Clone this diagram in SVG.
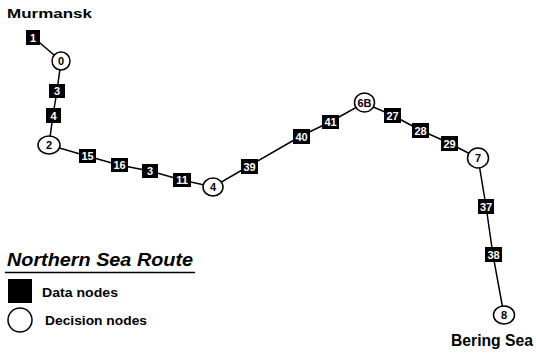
<svg xmlns="http://www.w3.org/2000/svg" width="536" height="353" viewBox="0 0 536 353">
<style>
.t{font-family:"Liberation Sans",Arial,sans-serif;font-weight:bold}
.d rect{fill:#000}
.d text{fill:#fff;font-size:11px;text-anchor:middle;font-family:"Liberation Sans",Arial,sans-serif;font-weight:bold}
.c ellipse{fill:#fff;stroke:#000;stroke-width:1.5}
.c text{fill:#000;font-size:11px;text-anchor:middle;font-family:"Liberation Sans",Arial,sans-serif;font-weight:bold}
.e{fill:none;stroke:#000;stroke-width:1.5}
</style>
<rect width="536" height="353" fill="#fff"/>
<g id="connectors">
<polyline class="e" points="33,37 61,61 57,91 53,115 49,145 87,156 119,165 150,171 182,180 213,187 249,166 301,136 330,122 364,103 392,115 420,130 449,143 478,158 486,206 493,255 504,315"/>
</g>
<text class="t" x="7" y="18" font-size="13.5" textLength="85" lengthAdjust="spacingAndGlyphs">Murmansk</text>
<text class="t" x="451" y="346" font-size="16" textLength="82" lengthAdjust="spacingAndGlyphs">Bering Sea</text>
<g id="n1" class="d"><rect x="26" y="30" width="14" height="15"/><text x="33" y="41.5">1</text></g>
<g id="n0" class="c"><ellipse cx="61" cy="61" rx="9" ry="9"/><text x="61" y="65">0</text></g>
<g id="n3a" class="d"><rect x="49" y="84" width="16" height="14"/><text x="57" y="95">3</text></g>
<g id="n4a" class="d"><rect x="46" y="108" width="15" height="15"/><text x="53.5" y="119.5">4</text></g>
<g id="n2" class="c"><ellipse cx="49" cy="145" rx="11" ry="9"/><text x="49" y="149">2</text></g>
<g id="n15" class="d"><rect x="79" y="149" width="17" height="14"/><text x="87.5" y="160">15</text></g>
<g id="n16" class="d"><rect x="111" y="158" width="17" height="14"/><text x="119.5" y="169">16</text></g>
<g id="n3b" class="d"><rect x="142" y="164" width="16" height="14"/><text x="150" y="175">3</text></g>
<g id="n11" class="d"><rect x="173" y="173" width="18" height="14"/><text x="182" y="184">11</text></g>
<g id="n4" class="c"><ellipse cx="213" cy="187" rx="10" ry="9"/><text x="213" y="191">4</text></g>
<g id="n39" class="d"><rect x="241" y="159" width="17" height="15"/><text x="249.5" y="170.5">39</text></g>
<g id="n40" class="d"><rect x="293" y="129" width="17" height="15"/><text x="301.5" y="140.5">40</text></g>
<g id="n41" class="d"><rect x="322" y="115" width="17" height="14"/><text x="330.5" y="126">41</text></g>
<g id="n6B" class="c"><ellipse cx="364.5" cy="102.5" rx="10" ry="9.5"/><text x="364.5" y="106.5">6B</text></g>
<g id="n27" class="d"><rect x="384" y="108" width="17" height="15"/><text x="392.5" y="119.5">27</text></g>
<g id="n28" class="d"><rect x="412" y="123" width="17" height="15"/><text x="420.5" y="134.5">28</text></g>
<g id="n29" class="d"><rect x="441" y="136" width="17" height="15"/><text x="449.5" y="147.5">29</text></g>
<g id="n7" class="c"><ellipse cx="478" cy="158" rx="10.5" ry="10"/><text x="478" y="162">7</text></g>
<g id="n37" class="d"><rect x="478" y="199" width="16" height="15"/><text x="486" y="210.5">37</text></g>
<g id="n38" class="d"><rect x="485" y="247" width="17" height="15"/><text x="493.5" y="258.5">38</text></g>
<g id="n8" class="c"><ellipse cx="504" cy="315" rx="10.5" ry="9"/><text x="504" y="319">8</text></g>
<g id="legend">
<text class="t" x="7" y="266" font-size="17.5" font-style="italic" textLength="186" lengthAdjust="spacingAndGlyphs">Northern Sea Route</text>
<line x1="5" y1="272.5" x2="195" y2="272.5" stroke="#000" stroke-width="1.5"/>
<rect x="8" y="279" width="24" height="24" fill="#000"/>
<text class="t" x="42" y="297" font-size="13.5" textLength="76" lengthAdjust="spacingAndGlyphs">Data nodes</text>
<circle cx="20" cy="320" r="12" fill="#fff" stroke="#000" stroke-width="1.5"/>
<text class="t" x="45" y="325" font-size="13.5" textLength="102" lengthAdjust="spacingAndGlyphs">Decision nodes</text>
</g>
</svg>
